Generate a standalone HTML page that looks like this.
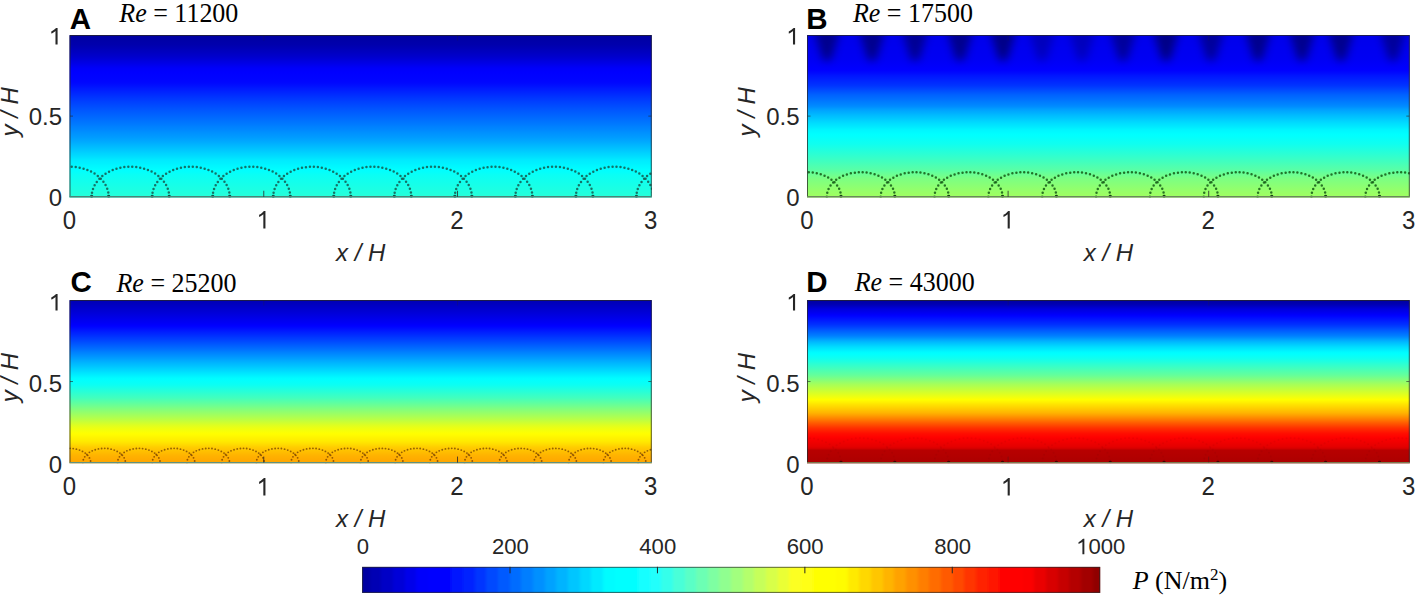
<!DOCTYPE html>
<html><head><meta charset="utf-8"><title>Pressure fields</title>
<style>
html,body{margin:0;padding:0;background:#fff;}
body{width:1417px;height:597px;overflow:hidden;position:relative;}
svg{position:absolute;left:0;top:0;display:block;}
.tk{font-family:"Liberation Sans",sans-serif;font-size:24px;fill:#262626;}
.al{font-family:"Liberation Sans",sans-serif;font-size:24px;font-style:italic;fill:#262626;}
.pl{font-family:"Liberation Sans",sans-serif;font-size:29.5px;font-weight:bold;fill:#000;}
.ti{font-family:"Liberation Serif",serif;font-size:26px;fill:#000;}
.it{font-style:italic;}
</style></head><body>
<svg width="1417" height="597" viewBox="0 0 1417 597">
<defs>
<filter id="blur" x="-50%" y="-50%" width="200%" height="200%"><feGaussianBlur stdDeviation="4"/></filter>
<linearGradient id="gA" x1="0" y1="1" x2="0" y2="0">
<stop offset="0.0000" stop-color="#29ffd6"/><stop offset="0.0100" stop-color="#25ffda"/><stop offset="0.0200" stop-color="#23ffdc"/><stop offset="0.0300" stop-color="#21ffde"/><stop offset="0.0400" stop-color="#1fffe0"/><stop offset="0.0500" stop-color="#1cffe3"/><stop offset="0.0600" stop-color="#1affe5"/><stop offset="0.0700" stop-color="#18ffe7"/><stop offset="0.0800" stop-color="#16ffe9"/><stop offset="0.0900" stop-color="#14ffeb"/><stop offset="0.1000" stop-color="#12ffed"/><stop offset="0.1100" stop-color="#10ffef"/><stop offset="0.1200" stop-color="#0efff1"/><stop offset="0.1300" stop-color="#0cfff3"/><stop offset="0.1400" stop-color="#0afff5"/><stop offset="0.1500" stop-color="#06fff9"/><stop offset="0.1600" stop-color="#03fffc"/><stop offset="0.1700" stop-color="#00ffff"/><stop offset="0.1800" stop-color="#00fbff"/><stop offset="0.1900" stop-color="#00f8ff"/><stop offset="0.2000" stop-color="#00f5ff"/><stop offset="0.2100" stop-color="#00f1ff"/><stop offset="0.2200" stop-color="#00eeff"/><stop offset="0.2300" stop-color="#00ebff"/><stop offset="0.2400" stop-color="#00e5ff"/><stop offset="0.2500" stop-color="#00dfff"/><stop offset="0.2600" stop-color="#00d9ff"/><stop offset="0.2700" stop-color="#00d4ff"/><stop offset="0.2800" stop-color="#00ceff"/><stop offset="0.2900" stop-color="#00c8ff"/><stop offset="0.3000" stop-color="#00c2ff"/><stop offset="0.3100" stop-color="#00bdff"/><stop offset="0.3200" stop-color="#00b7ff"/><stop offset="0.3300" stop-color="#00b1ff"/><stop offset="0.3400" stop-color="#00abff"/><stop offset="0.3500" stop-color="#00a6ff"/><stop offset="0.3600" stop-color="#00a1ff"/><stop offset="0.3700" stop-color="#009cff"/><stop offset="0.3800" stop-color="#0098ff"/><stop offset="0.3900" stop-color="#0094ff"/><stop offset="0.4000" stop-color="#0090ff"/><stop offset="0.4100" stop-color="#008bff"/><stop offset="0.4200" stop-color="#0087ff"/><stop offset="0.4300" stop-color="#0083ff"/><stop offset="0.4400" stop-color="#007fff"/><stop offset="0.4500" stop-color="#007aff"/><stop offset="0.4600" stop-color="#0076ff"/><stop offset="0.4700" stop-color="#0072ff"/><stop offset="0.4800" stop-color="#006eff"/><stop offset="0.4900" stop-color="#006aff"/><stop offset="0.5000" stop-color="#0066ff"/><stop offset="0.5100" stop-color="#0062ff"/><stop offset="0.5200" stop-color="#005eff"/><stop offset="0.5300" stop-color="#005aff"/><stop offset="0.5400" stop-color="#0056ff"/><stop offset="0.5500" stop-color="#0052ff"/><stop offset="0.5600" stop-color="#004dff"/><stop offset="0.5700" stop-color="#0049ff"/><stop offset="0.5800" stop-color="#0044ff"/><stop offset="0.5900" stop-color="#0040ff"/><stop offset="0.6000" stop-color="#003bff"/><stop offset="0.6100" stop-color="#0037ff"/><stop offset="0.6200" stop-color="#0032ff"/><stop offset="0.6300" stop-color="#002dff"/><stop offset="0.6400" stop-color="#0028ff"/><stop offset="0.6500" stop-color="#0023ff"/><stop offset="0.6600" stop-color="#001eff"/><stop offset="0.6700" stop-color="#001aff"/><stop offset="0.6800" stop-color="#0014ff"/><stop offset="0.6900" stop-color="#000fff"/><stop offset="0.7000" stop-color="#000aff"/><stop offset="0.7100" stop-color="#0007ff"/><stop offset="0.7200" stop-color="#0005ff"/><stop offset="0.7300" stop-color="#0004ff"/><stop offset="0.7400" stop-color="#0003ff"/><stop offset="0.7500" stop-color="#0002ff"/><stop offset="0.7600" stop-color="#0001ff"/><stop offset="0.7700" stop-color="#0000ff"/><stop offset="0.7800" stop-color="#0000fd"/><stop offset="0.7900" stop-color="#0000fc"/><stop offset="0.8000" stop-color="#0000f7"/><stop offset="0.8100" stop-color="#0000f1"/><stop offset="0.8200" stop-color="#0000ea"/><stop offset="0.8300" stop-color="#0000e4"/><stop offset="0.8400" stop-color="#0000de"/><stop offset="0.8500" stop-color="#0000d7"/><stop offset="0.8600" stop-color="#0000d1"/><stop offset="0.8700" stop-color="#0000cb"/><stop offset="0.8800" stop-color="#0000c7"/><stop offset="0.8900" stop-color="#0000c2"/><stop offset="0.9000" stop-color="#0000be"/><stop offset="0.9100" stop-color="#0000ba"/><stop offset="0.9200" stop-color="#0000b5"/><stop offset="0.9300" stop-color="#0000b1"/><stop offset="0.9400" stop-color="#0000ad"/><stop offset="0.9500" stop-color="#0000ab"/><stop offset="0.9600" stop-color="#0000a9"/><stop offset="0.9700" stop-color="#0000a7"/><stop offset="0.9800" stop-color="#0000a5"/><stop offset="0.9900" stop-color="#0000a2"/><stop offset="1.0000" stop-color="#00009e"/>
</linearGradient>
<clipPath id="cA"><rect x="69.50" y="35.00" width="582.30" height="162.50"/></clipPath>
<linearGradient id="gB" x1="0" y1="1" x2="0" y2="0">
<stop offset="0.0000" stop-color="#9eff61"/><stop offset="0.0100" stop-color="#9dff62"/><stop offset="0.0200" stop-color="#9bff64"/><stop offset="0.0300" stop-color="#99ff66"/><stop offset="0.0400" stop-color="#96ff69"/><stop offset="0.0500" stop-color="#93ff6c"/><stop offset="0.0600" stop-color="#8fff70"/><stop offset="0.0700" stop-color="#8cff73"/><stop offset="0.0800" stop-color="#88ff77"/><stop offset="0.0900" stop-color="#85ff7a"/><stop offset="0.1000" stop-color="#81ff7e"/><stop offset="0.1100" stop-color="#7eff81"/><stop offset="0.1200" stop-color="#7aff85"/><stop offset="0.1300" stop-color="#74ff8b"/><stop offset="0.1400" stop-color="#6dff92"/><stop offset="0.1500" stop-color="#67ff98"/><stop offset="0.1600" stop-color="#60ff9f"/><stop offset="0.1700" stop-color="#59ffa6"/><stop offset="0.1800" stop-color="#54ffab"/><stop offset="0.1900" stop-color="#50ffaf"/><stop offset="0.2000" stop-color="#4bffb4"/><stop offset="0.2100" stop-color="#46ffb9"/><stop offset="0.2200" stop-color="#41ffbe"/><stop offset="0.2300" stop-color="#3dffc2"/><stop offset="0.2400" stop-color="#38ffc7"/><stop offset="0.2500" stop-color="#33ffcc"/><stop offset="0.2600" stop-color="#2fffd0"/><stop offset="0.2700" stop-color="#2affd5"/><stop offset="0.2800" stop-color="#26ffd9"/><stop offset="0.2900" stop-color="#21ffde"/><stop offset="0.3000" stop-color="#1dffe2"/><stop offset="0.3100" stop-color="#18ffe7"/><stop offset="0.3200" stop-color="#14ffeb"/><stop offset="0.3300" stop-color="#0ffff0"/><stop offset="0.3400" stop-color="#0dfff2"/><stop offset="0.3500" stop-color="#0afff5"/><stop offset="0.3600" stop-color="#07fff8"/><stop offset="0.3700" stop-color="#04fffb"/><stop offset="0.3800" stop-color="#01fffe"/><stop offset="0.3900" stop-color="#00feff"/><stop offset="0.4000" stop-color="#00fbff"/><stop offset="0.4100" stop-color="#00f8ff"/><stop offset="0.4200" stop-color="#00f4ff"/><stop offset="0.4300" stop-color="#00edff"/><stop offset="0.4400" stop-color="#00e7ff"/><stop offset="0.4500" stop-color="#00e1ff"/><stop offset="0.4600" stop-color="#00dbff"/><stop offset="0.4700" stop-color="#00d4ff"/><stop offset="0.4800" stop-color="#00cdff"/><stop offset="0.4900" stop-color="#00c6ff"/><stop offset="0.5000" stop-color="#00bfff"/><stop offset="0.5100" stop-color="#00b8ff"/><stop offset="0.5200" stop-color="#00b0ff"/><stop offset="0.5300" stop-color="#00a9ff"/><stop offset="0.5400" stop-color="#00a1ff"/><stop offset="0.5500" stop-color="#0097ff"/><stop offset="0.5600" stop-color="#008dff"/><stop offset="0.5700" stop-color="#0086ff"/><stop offset="0.5800" stop-color="#0080ff"/><stop offset="0.5900" stop-color="#007aff"/><stop offset="0.6000" stop-color="#0074ff"/><stop offset="0.6100" stop-color="#006eff"/><stop offset="0.6200" stop-color="#0068ff"/><stop offset="0.6300" stop-color="#0063ff"/><stop offset="0.6400" stop-color="#005bff"/><stop offset="0.6500" stop-color="#0053ff"/><stop offset="0.6600" stop-color="#004bff"/><stop offset="0.6700" stop-color="#0043ff"/><stop offset="0.6800" stop-color="#003bff"/><stop offset="0.6900" stop-color="#0033ff"/><stop offset="0.7000" stop-color="#002eff"/><stop offset="0.7100" stop-color="#0029ff"/><stop offset="0.7200" stop-color="#0024ff"/><stop offset="0.7300" stop-color="#001fff"/><stop offset="0.7400" stop-color="#001aff"/><stop offset="0.7500" stop-color="#0015ff"/><stop offset="0.7600" stop-color="#000eff"/><stop offset="0.7700" stop-color="#0008ff"/><stop offset="0.7800" stop-color="#0002ff"/><stop offset="0.7900" stop-color="#0000ff"/><stop offset="0.8000" stop-color="#0000fd"/><stop offset="0.8100" stop-color="#0000fb"/><stop offset="0.8200" stop-color="#0000f9"/><stop offset="0.8300" stop-color="#0000f8"/><stop offset="0.8400" stop-color="#0000f6"/><stop offset="0.8500" stop-color="#0000f4"/><stop offset="0.8600" stop-color="#0000f3"/><stop offset="0.8700" stop-color="#0000f2"/><stop offset="0.8800" stop-color="#0000f2"/><stop offset="0.8900" stop-color="#0000f1"/><stop offset="0.9000" stop-color="#0000f1"/><stop offset="0.9100" stop-color="#0000f0"/><stop offset="0.9200" stop-color="#0000f0"/><stop offset="0.9300" stop-color="#0000ef"/><stop offset="0.9400" stop-color="#0000ee"/><stop offset="0.9500" stop-color="#0000ee"/><stop offset="0.9600" stop-color="#0000ed"/><stop offset="0.9700" stop-color="#0000ed"/><stop offset="0.9800" stop-color="#0000ec"/><stop offset="0.9900" stop-color="#0000eb"/><stop offset="1.0000" stop-color="#0000eb"/>
</linearGradient>
<clipPath id="cB"><rect x="807.00" y="35.00" width="602.80" height="162.50"/></clipPath>
<linearGradient id="gC" x1="0" y1="1" x2="0" y2="0">
<stop offset="0.0000" stop-color="#ffa300"/><stop offset="0.0100" stop-color="#ffa600"/><stop offset="0.0200" stop-color="#ffaa00"/><stop offset="0.0300" stop-color="#ffad00"/><stop offset="0.0400" stop-color="#ffb000"/><stop offset="0.0500" stop-color="#ffb400"/><stop offset="0.0600" stop-color="#ffb900"/><stop offset="0.0700" stop-color="#ffbe00"/><stop offset="0.0800" stop-color="#ffc300"/><stop offset="0.0900" stop-color="#ffc800"/><stop offset="0.1000" stop-color="#ffce00"/><stop offset="0.1100" stop-color="#ffd700"/><stop offset="0.1200" stop-color="#ffdf00"/><stop offset="0.1300" stop-color="#ffe700"/><stop offset="0.1400" stop-color="#ffed00"/><stop offset="0.1500" stop-color="#fff100"/><stop offset="0.1600" stop-color="#fff500"/><stop offset="0.1700" stop-color="#fffa00"/><stop offset="0.1800" stop-color="#fffe00"/><stop offset="0.1900" stop-color="#fbff04"/><stop offset="0.2000" stop-color="#f5ff0a"/><stop offset="0.2100" stop-color="#efff10"/><stop offset="0.2200" stop-color="#e9ff16"/><stop offset="0.2300" stop-color="#e1ff1e"/><stop offset="0.2400" stop-color="#d7ff28"/><stop offset="0.2500" stop-color="#cdff32"/><stop offset="0.2600" stop-color="#c2ff3d"/><stop offset="0.2700" stop-color="#b9ff46"/><stop offset="0.2800" stop-color="#b0ff4f"/><stop offset="0.2900" stop-color="#a7ff58"/><stop offset="0.3000" stop-color="#9eff61"/><stop offset="0.3100" stop-color="#95ff6a"/><stop offset="0.3200" stop-color="#8cff73"/><stop offset="0.3300" stop-color="#83ff7c"/><stop offset="0.3400" stop-color="#7aff85"/><stop offset="0.3500" stop-color="#70ff8f"/><stop offset="0.3600" stop-color="#67ff98"/><stop offset="0.3700" stop-color="#5effa1"/><stop offset="0.3800" stop-color="#55ffaa"/><stop offset="0.3900" stop-color="#4cffb3"/><stop offset="0.4000" stop-color="#42ffbd"/><stop offset="0.4100" stop-color="#3cffc3"/><stop offset="0.4200" stop-color="#35ffca"/><stop offset="0.4300" stop-color="#2effd1"/><stop offset="0.4400" stop-color="#27ffd8"/><stop offset="0.4500" stop-color="#21ffde"/><stop offset="0.4600" stop-color="#1affe5"/><stop offset="0.4700" stop-color="#13ffec"/><stop offset="0.4800" stop-color="#0cfff3"/><stop offset="0.4900" stop-color="#08fff7"/><stop offset="0.5000" stop-color="#05fffa"/><stop offset="0.5100" stop-color="#01fffe"/><stop offset="0.5200" stop-color="#00fcff"/><stop offset="0.5300" stop-color="#00f6ff"/><stop offset="0.5400" stop-color="#00eeff"/><stop offset="0.5500" stop-color="#00e7ff"/><stop offset="0.5600" stop-color="#00dfff"/><stop offset="0.5700" stop-color="#00d7ff"/><stop offset="0.5800" stop-color="#00d0ff"/><stop offset="0.5900" stop-color="#00c8ff"/><stop offset="0.6000" stop-color="#00c0ff"/><stop offset="0.6100" stop-color="#00b9ff"/><stop offset="0.6200" stop-color="#00b1ff"/><stop offset="0.6300" stop-color="#00a9ff"/><stop offset="0.6400" stop-color="#00a0ff"/><stop offset="0.6500" stop-color="#0098ff"/><stop offset="0.6600" stop-color="#0090ff"/><stop offset="0.6700" stop-color="#0088ff"/><stop offset="0.6800" stop-color="#0080ff"/><stop offset="0.6900" stop-color="#0077ff"/><stop offset="0.7000" stop-color="#006fff"/><stop offset="0.7100" stop-color="#0067ff"/><stop offset="0.7200" stop-color="#005fff"/><stop offset="0.7300" stop-color="#0057ff"/><stop offset="0.7400" stop-color="#004fff"/><stop offset="0.7500" stop-color="#0047ff"/><stop offset="0.7600" stop-color="#003fff"/><stop offset="0.7700" stop-color="#0038ff"/><stop offset="0.7800" stop-color="#0030ff"/><stop offset="0.7900" stop-color="#0028ff"/><stop offset="0.8000" stop-color="#0021ff"/><stop offset="0.8100" stop-color="#0019ff"/><stop offset="0.8200" stop-color="#0011ff"/><stop offset="0.8300" stop-color="#0009ff"/><stop offset="0.8400" stop-color="#0002ff"/><stop offset="0.8500" stop-color="#0000fb"/><stop offset="0.8600" stop-color="#0000f6"/><stop offset="0.8700" stop-color="#0000f1"/><stop offset="0.8800" stop-color="#0000ed"/><stop offset="0.8900" stop-color="#0000e8"/><stop offset="0.9000" stop-color="#0000e3"/><stop offset="0.9100" stop-color="#0000de"/><stop offset="0.9200" stop-color="#0000d9"/><stop offset="0.9300" stop-color="#0000d4"/><stop offset="0.9400" stop-color="#0000d0"/><stop offset="0.9500" stop-color="#0000cb"/><stop offset="0.9600" stop-color="#0000c6"/><stop offset="0.9700" stop-color="#0000c1"/><stop offset="0.9800" stop-color="#0000bc"/><stop offset="0.9900" stop-color="#0000b7"/><stop offset="1.0000" stop-color="#0000b2"/>
</linearGradient>
<clipPath id="cC"><rect x="69.50" y="300.00" width="582.30" height="163.30"/></clipPath>
<linearGradient id="gD" x1="0" y1="1" x2="0" y2="0">
<stop offset="0.0000" stop-color="#a80000"/><stop offset="0.0100" stop-color="#ad0000"/><stop offset="0.0200" stop-color="#af0000"/><stop offset="0.0300" stop-color="#b00000"/><stop offset="0.0400" stop-color="#b20000"/><stop offset="0.0500" stop-color="#b30000"/><stop offset="0.0600" stop-color="#b50000"/><stop offset="0.0700" stop-color="#b60000"/><stop offset="0.0800" stop-color="#b70000"/><stop offset="0.0900" stop-color="#d40000"/><stop offset="0.1000" stop-color="#e30000"/><stop offset="0.1100" stop-color="#e80000"/><stop offset="0.1200" stop-color="#ec0000"/><stop offset="0.1300" stop-color="#f10000"/><stop offset="0.1400" stop-color="#f50000"/><stop offset="0.1500" stop-color="#fa0000"/><stop offset="0.1600" stop-color="#ff0100"/><stop offset="0.1700" stop-color="#ff0700"/><stop offset="0.1800" stop-color="#ff0c00"/><stop offset="0.1900" stop-color="#ff1500"/><stop offset="0.2000" stop-color="#ff1f00"/><stop offset="0.2100" stop-color="#ff2a00"/><stop offset="0.2200" stop-color="#ff3600"/><stop offset="0.2300" stop-color="#ff4400"/><stop offset="0.2400" stop-color="#ff5200"/><stop offset="0.2500" stop-color="#ff6000"/><stop offset="0.2600" stop-color="#ff6f00"/><stop offset="0.2700" stop-color="#ff7d00"/><stop offset="0.2800" stop-color="#ff8b00"/><stop offset="0.2900" stop-color="#ff9a00"/><stop offset="0.3000" stop-color="#ffa800"/><stop offset="0.3100" stop-color="#ffb500"/><stop offset="0.3200" stop-color="#ffbe00"/><stop offset="0.3300" stop-color="#ffc800"/><stop offset="0.3400" stop-color="#ffd100"/><stop offset="0.3500" stop-color="#ffda00"/><stop offset="0.3600" stop-color="#ffe300"/><stop offset="0.3700" stop-color="#ffed00"/><stop offset="0.3800" stop-color="#fff600"/><stop offset="0.3900" stop-color="#ffff00"/><stop offset="0.4000" stop-color="#f5ff0a"/><stop offset="0.4100" stop-color="#ecff13"/><stop offset="0.4200" stop-color="#e2ff1d"/><stop offset="0.4300" stop-color="#d9ff26"/><stop offset="0.4400" stop-color="#cfff30"/><stop offset="0.4500" stop-color="#c5ff3a"/><stop offset="0.4600" stop-color="#bcff43"/><stop offset="0.4700" stop-color="#b2ff4d"/><stop offset="0.4800" stop-color="#a9ff56"/><stop offset="0.4900" stop-color="#9eff61"/><stop offset="0.5000" stop-color="#92ff6d"/><stop offset="0.5100" stop-color="#86ff79"/><stop offset="0.5200" stop-color="#7bff84"/><stop offset="0.5300" stop-color="#6fff90"/><stop offset="0.5400" stop-color="#64ff9b"/><stop offset="0.5500" stop-color="#5cffa3"/><stop offset="0.5600" stop-color="#54ffab"/><stop offset="0.5700" stop-color="#4cffb3"/><stop offset="0.5800" stop-color="#43ffbc"/><stop offset="0.5900" stop-color="#3bffc4"/><stop offset="0.6000" stop-color="#33ffcc"/><stop offset="0.6100" stop-color="#2bffd4"/><stop offset="0.6200" stop-color="#22ffdd"/><stop offset="0.6300" stop-color="#1affe5"/><stop offset="0.6400" stop-color="#12ffed"/><stop offset="0.6500" stop-color="#0cfff3"/><stop offset="0.6600" stop-color="#06fff9"/><stop offset="0.6700" stop-color="#01fffe"/><stop offset="0.6800" stop-color="#00fbff"/><stop offset="0.6900" stop-color="#00f2ff"/><stop offset="0.7000" stop-color="#00e8ff"/><stop offset="0.7100" stop-color="#00dfff"/><stop offset="0.7200" stop-color="#00d4ff"/><stop offset="0.7300" stop-color="#00c8ff"/><stop offset="0.7400" stop-color="#00bcff"/><stop offset="0.7500" stop-color="#00afff"/><stop offset="0.7600" stop-color="#009fff"/><stop offset="0.7700" stop-color="#008fff"/><stop offset="0.7800" stop-color="#0080ff"/><stop offset="0.7900" stop-color="#0075ff"/><stop offset="0.8000" stop-color="#006aff"/><stop offset="0.8100" stop-color="#005fff"/><stop offset="0.8200" stop-color="#0053ff"/><stop offset="0.8300" stop-color="#0047ff"/><stop offset="0.8400" stop-color="#003bff"/><stop offset="0.8500" stop-color="#0030ff"/><stop offset="0.8600" stop-color="#0028ff"/><stop offset="0.8700" stop-color="#001fff"/><stop offset="0.8800" stop-color="#0016ff"/><stop offset="0.8900" stop-color="#000eff"/><stop offset="0.9000" stop-color="#0005ff"/><stop offset="0.9100" stop-color="#0000fb"/><stop offset="0.9200" stop-color="#0000f2"/><stop offset="0.9300" stop-color="#0000e9"/><stop offset="0.9400" stop-color="#0000e1"/><stop offset="0.9500" stop-color="#0000d5"/><stop offset="0.9600" stop-color="#0000c6"/><stop offset="0.9700" stop-color="#0000b7"/><stop offset="0.9800" stop-color="#0000ad"/><stop offset="0.9900" stop-color="#0000a6"/><stop offset="1.0000" stop-color="#00009e"/>
</linearGradient>
<clipPath id="cD"><rect x="807.00" y="300.00" width="602.80" height="163.30"/></clipPath>
<linearGradient id="gcb" x1="0" y1="0" x2="1" y2="0">
<stop offset="0.00000" stop-color="#0000a2"/><stop offset="0.01562" stop-color="#0000a2"/><stop offset="0.01562" stop-color="#0000b4"/><stop offset="0.03125" stop-color="#0000b4"/><stop offset="0.03125" stop-color="#0000c6"/><stop offset="0.04688" stop-color="#0000c6"/><stop offset="0.04688" stop-color="#0000d8"/><stop offset="0.06250" stop-color="#0000d8"/><stop offset="0.06250" stop-color="#0000ea"/><stop offset="0.07812" stop-color="#0000ea"/><stop offset="0.07812" stop-color="#0000fc"/><stop offset="0.09375" stop-color="#0000fc"/><stop offset="0.09375" stop-color="#0000ff"/><stop offset="0.10938" stop-color="#0000ff"/><stop offset="0.10938" stop-color="#0000ff"/><stop offset="0.12500" stop-color="#0000ff"/><stop offset="0.12500" stop-color="#0012ff"/><stop offset="0.14062" stop-color="#0012ff"/><stop offset="0.14062" stop-color="#0024ff"/><stop offset="0.15625" stop-color="#0024ff"/><stop offset="0.15625" stop-color="#0036ff"/><stop offset="0.17188" stop-color="#0036ff"/><stop offset="0.17188" stop-color="#0048ff"/><stop offset="0.18750" stop-color="#0048ff"/><stop offset="0.18750" stop-color="#005aff"/><stop offset="0.20312" stop-color="#005aff"/><stop offset="0.20312" stop-color="#006cff"/><stop offset="0.21875" stop-color="#006cff"/><stop offset="0.21875" stop-color="#007eff"/><stop offset="0.23438" stop-color="#007eff"/><stop offset="0.23438" stop-color="#0090ff"/><stop offset="0.25000" stop-color="#0090ff"/><stop offset="0.25000" stop-color="#00a2ff"/><stop offset="0.26562" stop-color="#00a2ff"/><stop offset="0.26562" stop-color="#00b4ff"/><stop offset="0.28125" stop-color="#00b4ff"/><stop offset="0.28125" stop-color="#00c6ff"/><stop offset="0.29688" stop-color="#00c6ff"/><stop offset="0.29688" stop-color="#00d8ff"/><stop offset="0.31250" stop-color="#00d8ff"/><stop offset="0.31250" stop-color="#00eaff"/><stop offset="0.32812" stop-color="#00eaff"/><stop offset="0.32812" stop-color="#00fcff"/><stop offset="0.34375" stop-color="#00fcff"/><stop offset="0.34375" stop-color="#00ffff"/><stop offset="0.35938" stop-color="#00ffff"/><stop offset="0.35938" stop-color="#00ffff"/><stop offset="0.37500" stop-color="#00ffff"/><stop offset="0.37500" stop-color="#12ffff"/><stop offset="0.39062" stop-color="#12ffff"/><stop offset="0.39062" stop-color="#24fffc"/><stop offset="0.40625" stop-color="#24fffc"/><stop offset="0.40625" stop-color="#36ffea"/><stop offset="0.42188" stop-color="#36ffea"/><stop offset="0.42188" stop-color="#48ffd8"/><stop offset="0.43750" stop-color="#48ffd8"/><stop offset="0.43750" stop-color="#5affc6"/><stop offset="0.45312" stop-color="#5affc6"/><stop offset="0.45312" stop-color="#6cffb4"/><stop offset="0.46875" stop-color="#6cffb4"/><stop offset="0.46875" stop-color="#7effa2"/><stop offset="0.48438" stop-color="#7effa2"/><stop offset="0.48438" stop-color="#90ff90"/><stop offset="0.50000" stop-color="#90ff90"/><stop offset="0.50000" stop-color="#a2ff7e"/><stop offset="0.51562" stop-color="#a2ff7e"/><stop offset="0.51562" stop-color="#b4ff6c"/><stop offset="0.53125" stop-color="#b4ff6c"/><stop offset="0.53125" stop-color="#c6ff5a"/><stop offset="0.54688" stop-color="#c6ff5a"/><stop offset="0.54688" stop-color="#d8ff48"/><stop offset="0.56250" stop-color="#d8ff48"/><stop offset="0.56250" stop-color="#eaff36"/><stop offset="0.57812" stop-color="#eaff36"/><stop offset="0.57812" stop-color="#fcff24"/><stop offset="0.59375" stop-color="#fcff24"/><stop offset="0.59375" stop-color="#ffff12"/><stop offset="0.60938" stop-color="#ffff12"/><stop offset="0.60938" stop-color="#ffff00"/><stop offset="0.62500" stop-color="#ffff00"/><stop offset="0.62500" stop-color="#ffff00"/><stop offset="0.64062" stop-color="#ffff00"/><stop offset="0.64062" stop-color="#fffc00"/><stop offset="0.65625" stop-color="#fffc00"/><stop offset="0.65625" stop-color="#ffea00"/><stop offset="0.67188" stop-color="#ffea00"/><stop offset="0.67188" stop-color="#ffd800"/><stop offset="0.68750" stop-color="#ffd800"/><stop offset="0.68750" stop-color="#ffc600"/><stop offset="0.70312" stop-color="#ffc600"/><stop offset="0.70312" stop-color="#ffb400"/><stop offset="0.71875" stop-color="#ffb400"/><stop offset="0.71875" stop-color="#ffa200"/><stop offset="0.73438" stop-color="#ffa200"/><stop offset="0.73438" stop-color="#ff9000"/><stop offset="0.75000" stop-color="#ff9000"/><stop offset="0.75000" stop-color="#ff7e00"/><stop offset="0.76562" stop-color="#ff7e00"/><stop offset="0.76562" stop-color="#ff6c00"/><stop offset="0.78125" stop-color="#ff6c00"/><stop offset="0.78125" stop-color="#ff5a00"/><stop offset="0.79688" stop-color="#ff5a00"/><stop offset="0.79688" stop-color="#ff4800"/><stop offset="0.81250" stop-color="#ff4800"/><stop offset="0.81250" stop-color="#ff3600"/><stop offset="0.82812" stop-color="#ff3600"/><stop offset="0.82812" stop-color="#ff2400"/><stop offset="0.84375" stop-color="#ff2400"/><stop offset="0.84375" stop-color="#ff1200"/><stop offset="0.85938" stop-color="#ff1200"/><stop offset="0.85938" stop-color="#ff0000"/><stop offset="0.87500" stop-color="#ff0000"/><stop offset="0.87500" stop-color="#ff0000"/><stop offset="0.89062" stop-color="#ff0000"/><stop offset="0.89062" stop-color="#fc0000"/><stop offset="0.90625" stop-color="#fc0000"/><stop offset="0.90625" stop-color="#ea0000"/><stop offset="0.92188" stop-color="#ea0000"/><stop offset="0.92188" stop-color="#d80000"/><stop offset="0.93750" stop-color="#d80000"/><stop offset="0.93750" stop-color="#c60000"/><stop offset="0.95312" stop-color="#c60000"/><stop offset="0.95312" stop-color="#b40000"/><stop offset="0.96875" stop-color="#b40000"/><stop offset="0.96875" stop-color="#a20000"/><stop offset="0.98438" stop-color="#a20000"/><stop offset="0.98438" stop-color="#900000"/><stop offset="1.00000" stop-color="#900000"/>
</linearGradient>
</defs>
<rect x="69.50" y="35.00" width="582.30" height="162.50" fill="url(#gA)"/>
<g clip-path="url(#cA)" fill="none" stroke="#155a50" stroke-opacity="0.85" stroke-width="2.50" stroke-linecap="round" stroke-dasharray="0 4.00">
<path d="M31.14 196.75 A38.76 30.00 0 0 1 108.66 196.75"/><path d="M91.67 196.75 A38.76 30.00 0 0 1 169.19 196.75"/><path d="M152.20 196.75 A38.76 30.00 0 0 1 229.72 196.75"/><path d="M212.73 196.75 A38.76 30.00 0 0 1 290.25 196.75"/><path d="M273.26 196.75 A38.76 30.00 0 0 1 350.78 196.75"/><path d="M333.79 196.75 A38.76 30.00 0 0 1 411.31 196.75"/><path d="M394.32 196.75 A38.76 30.00 0 0 1 471.84 196.75"/><path d="M454.85 196.75 A38.76 30.00 0 0 1 532.37 196.75"/><path d="M515.38 196.75 A38.76 30.00 0 0 1 592.90 196.75"/><path d="M575.91 196.75 A38.76 30.00 0 0 1 653.43 196.75"/><path d="M636.44 196.75 A38.76 30.00 0 0 1 713.96 196.75"/>
</g>
<g clip-path="url(#cA)" fill="#0a3a30" opacity="0.80"><ellipse cx="108.66" cy="196.15" rx="1.6" ry="1.3"/><ellipse cx="169.19" cy="196.15" rx="1.6" ry="1.3"/><ellipse cx="91.67" cy="196.15" rx="1.6" ry="1.3"/><ellipse cx="229.72" cy="196.15" rx="1.6" ry="1.3"/><ellipse cx="152.20" cy="196.15" rx="1.6" ry="1.3"/><ellipse cx="290.25" cy="196.15" rx="1.6" ry="1.3"/><ellipse cx="212.73" cy="196.15" rx="1.6" ry="1.3"/><ellipse cx="350.78" cy="196.15" rx="1.6" ry="1.3"/><ellipse cx="273.26" cy="196.15" rx="1.6" ry="1.3"/><ellipse cx="411.31" cy="196.15" rx="1.6" ry="1.3"/><ellipse cx="333.79" cy="196.15" rx="1.6" ry="1.3"/><ellipse cx="471.84" cy="196.15" rx="1.6" ry="1.3"/><ellipse cx="394.32" cy="196.15" rx="1.6" ry="1.3"/><ellipse cx="532.37" cy="196.15" rx="1.6" ry="1.3"/><ellipse cx="454.85" cy="196.15" rx="1.6" ry="1.3"/><ellipse cx="592.90" cy="196.15" rx="1.6" ry="1.3"/><ellipse cx="515.38" cy="196.15" rx="1.6" ry="1.3"/><ellipse cx="575.91" cy="196.15" rx="1.6" ry="1.3"/><ellipse cx="636.44" cy="196.15" rx="1.6" ry="1.3"/></g>
<path d="M70.00 196.75 V35.50 H651.30 V196.75" fill="none" stroke="#262626" stroke-width="1" stroke-opacity="0.75"/>
<line x1="69.50" y1="196.75" x2="651.80" y2="196.75" stroke="#4a8478" stroke-width="1.3"/>
<line x1="263.77" y1="196.75" x2="263.77" y2="190.75" stroke="#262626" stroke-width="1" stroke-opacity="0.80"/><line x1="263.77" y1="35.50" x2="263.77" y2="40.50" stroke="#262626" stroke-width="1" stroke-opacity="0.25"/><line x1="457.53" y1="196.75" x2="457.53" y2="190.75" stroke="#262626" stroke-width="1" stroke-opacity="0.80"/><line x1="457.53" y1="35.50" x2="457.53" y2="40.50" stroke="#262626" stroke-width="1" stroke-opacity="0.25"/><line x1="70.00" y1="116.12" x2="73.00" y2="116.12" stroke="#262626" stroke-width="1" stroke-opacity="0.6"/><line x1="651.30" y1="116.12" x2="648.30" y2="116.12" stroke="#262626" stroke-width="1" stroke-opacity="0.6"/>
<g transform="translate(69.40,228.55) scale(1,1.060)" fill="#262626"><text x="-6.67" y="0" style="font-family:'Liberation Sans',sans-serif;font-size:24.00px">0</text></g><g transform="translate(263.17,228.55) scale(1,1.060)" fill="#262626"><path transform="translate(-6.67,0) scale(0.01172,-0.01172)" d="M763 0H583V1147Q518 1085 412 1023Q307 961 223 930V1104Q374 1175 487 1276Q600 1377 647 1409H763Z"/></g><g transform="translate(456.93,228.55) scale(1,1.060)" fill="#262626"><text x="-6.67" y="0" style="font-family:'Liberation Sans',sans-serif;font-size:24.00px">2</text></g><g transform="translate(650.70,228.55) scale(1,1.060)" fill="#262626"><text x="-6.67" y="0" style="font-family:'Liberation Sans',sans-serif;font-size:24.00px">3</text></g><g transform="translate(62.00,205.65) scale(1,1.000)" fill="#262626"><text x="-13.35" y="0" style="font-family:'Liberation Sans',sans-serif;font-size:24.00px">0</text></g><g transform="translate(62.00,125.03) scale(1,1.000)" fill="#262626"><text x="-33.36" y="0" style="font-family:'Liberation Sans',sans-serif;font-size:24.00px">0</text><text x="-20.02" y="0" style="font-family:'Liberation Sans',sans-serif;font-size:24.00px">.</text><text x="-13.35" y="0" style="font-family:'Liberation Sans',sans-serif;font-size:24.00px">5</text></g><g transform="translate(62.00,44.40) scale(1,1.000)" fill="#262626"><path transform="translate(-13.35,0) scale(0.01172,-0.01172)" d="M763 0H583V1147Q518 1085 412 1023Q307 961 223 930V1104Q374 1175 487 1276Q600 1377 647 1409H763Z"/></g>
<text class="al" x="360.65" y="260.55" text-anchor="middle">x / H</text>
<text class="al" transform="translate(17.80,111.80) rotate(-90)" x="0" y="0" text-anchor="middle">y / H</text>
<text class="pl" x="69.70" y="28.90">A</text>
<text class="ti" transform="translate(119.30,21.90) scale(1,1.05)" x="0" y="0"><tspan class="it">Re</tspan> = 11200</text>
<rect x="807.00" y="35.00" width="602.80" height="162.50" fill="url(#gB)"/>
<g clip-path="url(#cB)">
<path d="M814.0 30 L840.0 30 L832.0 58 Q827.0 64 822.0 58 Z" fill="#000080" opacity="0.88" filter="url(#blur)"/><path d="M859.0 30 L885.0 30 L877.0 58 Q872.0 64 867.0 58 Z" fill="#000080" opacity="0.88" filter="url(#blur)"/><path d="M902.0 30 L928.0 30 L920.0 58 Q915.0 64 910.0 58 Z" fill="#000080" opacity="0.81" filter="url(#blur)"/><path d="M947.0 30 L973.0 30 L965.0 58 Q960.0 64 955.0 58 Z" fill="#000080" opacity="0.88" filter="url(#blur)"/><path d="M990.0 30 L1016.0 30 L1008.0 58 Q1003.0 64 998.0 58 Z" fill="#000080" opacity="0.94" filter="url(#blur)"/><path d="M1029.0 30 L1055.0 30 L1047.0 58 Q1042.0 64 1037.0 58 Z" fill="#000080" opacity="0.44" filter="url(#blur)"/><path d="M1069.0 30 L1095.0 30 L1087.0 58 Q1082.0 64 1077.0 58 Z" fill="#000080" opacity="0.44" filter="url(#blur)"/><path d="M1110.0 30 L1136.0 30 L1128.0 58 Q1123.0 64 1118.0 58 Z" fill="#000080" opacity="0.75" filter="url(#blur)"/><path d="M1153.0 30 L1179.0 30 L1171.0 58 Q1166.0 64 1161.0 58 Z" fill="#000080" opacity="0.94" filter="url(#blur)"/><path d="M1198.0 30 L1224.0 30 L1216.0 58 Q1211.0 64 1206.0 58 Z" fill="#000080" opacity="0.75" filter="url(#blur)"/><path d="M1245.0 30 L1271.0 30 L1263.0 58 Q1258.0 64 1253.0 58 Z" fill="#000080" opacity="0.88" filter="url(#blur)"/><path d="M1289.0 30 L1315.0 30 L1307.0 58 Q1302.0 64 1297.0 58 Z" fill="#000080" opacity="0.88" filter="url(#blur)"/><path d="M1328.0 30 L1354.0 30 L1346.0 58 Q1341.0 64 1336.0 58 Z" fill="#000080" opacity="0.88" filter="url(#blur)"/><path d="M1380.0 30 L1406.0 30 L1398.0 58 Q1393.0 64 1388.0 58 Z" fill="#000080" opacity="0.75" filter="url(#blur)"/>
</g>
<g clip-path="url(#cB)" fill="none" stroke="#145a16" stroke-opacity="0.85" stroke-width="2.50" stroke-linecap="round" stroke-dasharray="0 4.00">
<path d="M772.97 196.75 A34.00 24.50 0 0 1 840.97 196.75"/><path d="M826.82 196.75 A34.00 24.50 0 0 1 894.82 196.75"/><path d="M880.67 196.75 A34.00 24.50 0 0 1 948.67 196.75"/><path d="M934.52 196.75 A34.00 24.50 0 0 1 1002.52 196.75"/><path d="M988.37 196.75 A34.00 24.50 0 0 1 1056.37 196.75"/><path d="M1042.22 196.75 A34.00 24.50 0 0 1 1110.22 196.75"/><path d="M1096.07 196.75 A34.00 24.50 0 0 1 1164.07 196.75"/><path d="M1149.92 196.75 A34.00 24.50 0 0 1 1217.92 196.75"/><path d="M1203.77 196.75 A34.00 24.50 0 0 1 1271.77 196.75"/><path d="M1257.62 196.75 A34.00 24.50 0 0 1 1325.62 196.75"/><path d="M1311.47 196.75 A34.00 24.50 0 0 1 1379.47 196.75"/><path d="M1365.32 196.75 A34.00 24.50 0 0 1 1433.32 196.75"/>
</g>
<g clip-path="url(#cB)" fill="#0a300a" opacity="0.85"><ellipse cx="840.97" cy="196.15" rx="1.6" ry="1.3"/><ellipse cx="894.82" cy="196.15" rx="1.6" ry="1.3"/><ellipse cx="948.67" cy="196.15" rx="1.6" ry="1.3"/><ellipse cx="1002.52" cy="196.15" rx="1.6" ry="1.3"/><ellipse cx="1056.37" cy="196.15" rx="1.6" ry="1.3"/><ellipse cx="1110.22" cy="196.15" rx="1.6" ry="1.3"/><ellipse cx="1164.07" cy="196.15" rx="1.6" ry="1.3"/><ellipse cx="1217.92" cy="196.15" rx="1.6" ry="1.3"/><ellipse cx="1271.77" cy="196.15" rx="1.6" ry="1.3"/><ellipse cx="1325.62" cy="196.15" rx="1.6" ry="1.3"/><ellipse cx="1379.47" cy="196.15" rx="1.6" ry="1.3"/></g>
<path d="M807.50 196.75 V35.50 H1409.30 V196.75" fill="none" stroke="#262626" stroke-width="1" stroke-opacity="0.75"/>
<line x1="807.00" y1="196.75" x2="1409.80" y2="196.75" stroke="#6a8a5a" stroke-width="1.3"/>
<line x1="1008.10" y1="196.75" x2="1008.10" y2="190.75" stroke="#262626" stroke-width="1" stroke-opacity="0.80"/><line x1="1008.10" y1="35.50" x2="1008.10" y2="40.50" stroke="#262626" stroke-width="1" stroke-opacity="0.25"/><line x1="1208.70" y1="196.75" x2="1208.70" y2="190.75" stroke="#262626" stroke-width="1" stroke-opacity="0.80"/><line x1="1208.70" y1="35.50" x2="1208.70" y2="40.50" stroke="#262626" stroke-width="1" stroke-opacity="0.25"/><line x1="807.50" y1="116.12" x2="810.50" y2="116.12" stroke="#262626" stroke-width="1" stroke-opacity="0.6"/><line x1="1409.30" y1="116.12" x2="1406.30" y2="116.12" stroke="#262626" stroke-width="1" stroke-opacity="0.6"/>
<g transform="translate(806.90,228.55) scale(1,1.060)" fill="#262626"><text x="-6.67" y="0" style="font-family:'Liberation Sans',sans-serif;font-size:24.00px">0</text></g><g transform="translate(1007.50,228.55) scale(1,1.060)" fill="#262626"><path transform="translate(-6.67,0) scale(0.01172,-0.01172)" d="M763 0H583V1147Q518 1085 412 1023Q307 961 223 930V1104Q374 1175 487 1276Q600 1377 647 1409H763Z"/></g><g transform="translate(1208.10,228.55) scale(1,1.060)" fill="#262626"><text x="-6.67" y="0" style="font-family:'Liberation Sans',sans-serif;font-size:24.00px">2</text></g><g transform="translate(1408.70,228.55) scale(1,1.060)" fill="#262626"><text x="-6.67" y="0" style="font-family:'Liberation Sans',sans-serif;font-size:24.00px">3</text></g><g transform="translate(799.50,205.65) scale(1,1.000)" fill="#262626"><text x="-13.35" y="0" style="font-family:'Liberation Sans',sans-serif;font-size:24.00px">0</text></g><g transform="translate(799.50,125.03) scale(1,1.000)" fill="#262626"><text x="-33.36" y="0" style="font-family:'Liberation Sans',sans-serif;font-size:24.00px">0</text><text x="-20.02" y="0" style="font-family:'Liberation Sans',sans-serif;font-size:24.00px">.</text><text x="-13.35" y="0" style="font-family:'Liberation Sans',sans-serif;font-size:24.00px">5</text></g><g transform="translate(799.50,44.40) scale(1,1.000)" fill="#262626"><path transform="translate(-13.35,0) scale(0.01172,-0.01172)" d="M763 0H583V1147Q518 1085 412 1023Q307 961 223 930V1104Q374 1175 487 1276Q600 1377 647 1409H763Z"/></g>
<text class="al" x="1108.40" y="260.55" text-anchor="middle">x / H</text>
<text class="al" transform="translate(755.30,111.80) rotate(-90)" x="0" y="0" text-anchor="middle">y / H</text>
<text class="pl" x="806.20" y="28.90">B</text>
<text class="ti" transform="translate(852.90,21.90) scale(1,1.05)" x="0" y="0"><tspan class="it">Re</tspan> = 17500</text>
<rect x="69.50" y="300.00" width="582.30" height="163.30" fill="url(#gC)"/>
<g clip-path="url(#cC)" fill="none" stroke="#552500" stroke-opacity="0.62" stroke-width="1.90" stroke-linecap="round" stroke-dasharray="0 3.20">
<path d="M48.15 462.85 A21.30 14.50 0 0 1 90.75 462.85"/><path d="M82.85 462.85 A21.30 14.50 0 0 1 125.45 462.85"/><path d="M117.55 462.85 A21.30 14.50 0 0 1 160.15 462.85"/><path d="M152.25 462.85 A21.30 14.50 0 0 1 194.85 462.85"/><path d="M186.95 462.85 A21.30 14.50 0 0 1 229.55 462.85"/><path d="M221.65 462.85 A21.30 14.50 0 0 1 264.25 462.85"/><path d="M256.35 462.85 A21.30 14.50 0 0 1 298.95 462.85"/><path d="M291.05 462.85 A21.30 14.50 0 0 1 333.65 462.85"/><path d="M325.75 462.85 A21.30 14.50 0 0 1 368.35 462.85"/><path d="M360.45 462.85 A21.30 14.50 0 0 1 403.05 462.85"/><path d="M395.15 462.85 A21.30 14.50 0 0 1 437.75 462.85"/><path d="M429.85 462.85 A21.30 14.50 0 0 1 472.45 462.85"/><path d="M464.55 462.85 A21.30 14.50 0 0 1 507.15 462.85"/><path d="M499.25 462.85 A21.30 14.50 0 0 1 541.85 462.85"/><path d="M533.95 462.85 A21.30 14.50 0 0 1 576.55 462.85"/><path d="M568.65 462.85 A21.30 14.50 0 0 1 611.25 462.85"/><path d="M603.35 462.85 A21.30 14.50 0 0 1 645.95 462.85"/><path d="M638.05 462.85 A21.30 14.50 0 0 1 680.65 462.85"/>
</g>
<path d="M70.00 462.55 V300.50 H651.30 V462.55" fill="none" stroke="#262626" stroke-width="1" stroke-opacity="0.75"/>
<line x1="69.50" y1="462.55" x2="651.80" y2="462.55" stroke="#5f9282" stroke-width="1.3"/>
<line x1="263.77" y1="462.55" x2="263.77" y2="456.55" stroke="#262626" stroke-width="1" stroke-opacity="0.80"/><line x1="263.77" y1="300.50" x2="263.77" y2="305.50" stroke="#262626" stroke-width="1" stroke-opacity="0.25"/><line x1="457.53" y1="462.55" x2="457.53" y2="456.55" stroke="#262626" stroke-width="1" stroke-opacity="0.80"/><line x1="457.53" y1="300.50" x2="457.53" y2="305.50" stroke="#262626" stroke-width="1" stroke-opacity="0.25"/><line x1="70.00" y1="381.52" x2="73.00" y2="381.52" stroke="#262626" stroke-width="1" stroke-opacity="0.6"/><line x1="651.30" y1="381.52" x2="648.30" y2="381.52" stroke="#262626" stroke-width="1" stroke-opacity="0.6"/>
<g transform="translate(69.40,495.45) scale(1,1.060)" fill="#262626"><text x="-6.67" y="0" style="font-family:'Liberation Sans',sans-serif;font-size:24.00px">0</text></g><g transform="translate(263.17,495.45) scale(1,1.060)" fill="#262626"><path transform="translate(-6.67,0) scale(0.01172,-0.01172)" d="M763 0H583V1147Q518 1085 412 1023Q307 961 223 930V1104Q374 1175 487 1276Q600 1377 647 1409H763Z"/></g><g transform="translate(456.93,495.45) scale(1,1.060)" fill="#262626"><text x="-6.67" y="0" style="font-family:'Liberation Sans',sans-serif;font-size:24.00px">2</text></g><g transform="translate(650.70,495.45) scale(1,1.060)" fill="#262626"><text x="-6.67" y="0" style="font-family:'Liberation Sans',sans-serif;font-size:24.00px">3</text></g><g transform="translate(62.00,472.55) scale(1,1.000)" fill="#262626"><text x="-13.35" y="0" style="font-family:'Liberation Sans',sans-serif;font-size:24.00px">0</text></g><g transform="translate(62.00,391.52) scale(1,1.000)" fill="#262626"><text x="-33.36" y="0" style="font-family:'Liberation Sans',sans-serif;font-size:24.00px">0</text><text x="-20.02" y="0" style="font-family:'Liberation Sans',sans-serif;font-size:24.00px">.</text><text x="-13.35" y="0" style="font-family:'Liberation Sans',sans-serif;font-size:24.00px">5</text></g><g transform="translate(62.00,310.50) scale(1,1.000)" fill="#262626"><path transform="translate(-13.35,0) scale(0.01172,-0.01172)" d="M763 0H583V1147Q518 1085 412 1023Q307 961 223 930V1104Q374 1175 487 1276Q600 1377 647 1409H763Z"/></g>
<text class="al" x="360.65" y="527.12" text-anchor="middle">x / H</text>
<text class="al" transform="translate(17.80,377.68) rotate(-90)" x="0" y="0" text-anchor="middle">y / H</text>
<text class="pl" x="70.60" y="292.20">C</text>
<text class="ti" transform="translate(116.50,291.50) scale(1,1.05)" x="0" y="0"><tspan class="it">Re</tspan> = 25200</text>
<rect x="807.00" y="300.00" width="602.80" height="163.30" fill="url(#gD)"/>
<g clip-path="url(#cD)" fill="none" stroke="#300000" stroke-opacity="0.06" stroke-width="2.00" stroke-linecap="round" stroke-dasharray="0 4.10">
<path d="M772.97 462.55 A34.00 24.50 0 0 1 840.97 462.55"/><path d="M826.82 462.55 A34.00 24.50 0 0 1 894.82 462.55"/><path d="M880.67 462.55 A34.00 24.50 0 0 1 948.67 462.55"/><path d="M934.52 462.55 A34.00 24.50 0 0 1 1002.52 462.55"/><path d="M988.37 462.55 A34.00 24.50 0 0 1 1056.37 462.55"/><path d="M1042.22 462.55 A34.00 24.50 0 0 1 1110.22 462.55"/><path d="M1096.07 462.55 A34.00 24.50 0 0 1 1164.07 462.55"/><path d="M1149.92 462.55 A34.00 24.50 0 0 1 1217.92 462.55"/><path d="M1203.77 462.55 A34.00 24.50 0 0 1 1271.77 462.55"/><path d="M1257.62 462.55 A34.00 24.50 0 0 1 1325.62 462.55"/><path d="M1311.47 462.55 A34.00 24.50 0 0 1 1379.47 462.55"/><path d="M1365.32 462.55 A34.00 24.50 0 0 1 1433.32 462.55"/>
</g>
<g clip-path="url(#cD)" fill="#200000" opacity="0.70"><ellipse cx="840.97" cy="461.95" rx="1.6" ry="1.3"/><ellipse cx="894.82" cy="461.95" rx="1.6" ry="1.3"/><ellipse cx="948.67" cy="461.95" rx="1.6" ry="1.3"/><ellipse cx="1002.52" cy="461.95" rx="1.6" ry="1.3"/><ellipse cx="1056.37" cy="461.95" rx="1.6" ry="1.3"/><ellipse cx="1110.22" cy="461.95" rx="1.6" ry="1.3"/><ellipse cx="1164.07" cy="461.95" rx="1.6" ry="1.3"/><ellipse cx="1217.92" cy="461.95" rx="1.6" ry="1.3"/><ellipse cx="1271.77" cy="461.95" rx="1.6" ry="1.3"/><ellipse cx="1325.62" cy="461.95" rx="1.6" ry="1.3"/><ellipse cx="1379.47" cy="461.95" rx="1.6" ry="1.3"/></g>
<path d="M807.50 462.55 V300.50 H1409.30 V462.55" fill="none" stroke="#262626" stroke-width="1" stroke-opacity="0.75"/>
<line x1="807.00" y1="462.55" x2="1409.80" y2="462.55" stroke="#7a7a50" stroke-width="1.3"/>
<line x1="1008.10" y1="462.55" x2="1008.10" y2="456.55" stroke="#262626" stroke-width="1" stroke-opacity="0.30"/><line x1="1008.10" y1="300.50" x2="1008.10" y2="305.50" stroke="#262626" stroke-width="1" stroke-opacity="0.25"/><line x1="1208.70" y1="462.55" x2="1208.70" y2="456.55" stroke="#262626" stroke-width="1" stroke-opacity="0.30"/><line x1="1208.70" y1="300.50" x2="1208.70" y2="305.50" stroke="#262626" stroke-width="1" stroke-opacity="0.25"/><line x1="807.50" y1="381.52" x2="810.50" y2="381.52" stroke="#262626" stroke-width="1" stroke-opacity="0.6"/><line x1="1409.30" y1="381.52" x2="1406.30" y2="381.52" stroke="#262626" stroke-width="1" stroke-opacity="0.6"/>
<g transform="translate(806.90,495.45) scale(1,1.060)" fill="#262626"><text x="-6.67" y="0" style="font-family:'Liberation Sans',sans-serif;font-size:24.00px">0</text></g><g transform="translate(1007.50,495.45) scale(1,1.060)" fill="#262626"><path transform="translate(-6.67,0) scale(0.01172,-0.01172)" d="M763 0H583V1147Q518 1085 412 1023Q307 961 223 930V1104Q374 1175 487 1276Q600 1377 647 1409H763Z"/></g><g transform="translate(1208.10,495.45) scale(1,1.060)" fill="#262626"><text x="-6.67" y="0" style="font-family:'Liberation Sans',sans-serif;font-size:24.00px">2</text></g><g transform="translate(1408.70,495.45) scale(1,1.060)" fill="#262626"><text x="-6.67" y="0" style="font-family:'Liberation Sans',sans-serif;font-size:24.00px">3</text></g><g transform="translate(799.50,472.55) scale(1,1.000)" fill="#262626"><text x="-13.35" y="0" style="font-family:'Liberation Sans',sans-serif;font-size:24.00px">0</text></g><g transform="translate(799.50,391.52) scale(1,1.000)" fill="#262626"><text x="-33.36" y="0" style="font-family:'Liberation Sans',sans-serif;font-size:24.00px">0</text><text x="-20.02" y="0" style="font-family:'Liberation Sans',sans-serif;font-size:24.00px">.</text><text x="-13.35" y="0" style="font-family:'Liberation Sans',sans-serif;font-size:24.00px">5</text></g><g transform="translate(799.50,310.50) scale(1,1.000)" fill="#262626"><path transform="translate(-13.35,0) scale(0.01172,-0.01172)" d="M763 0H583V1147Q518 1085 412 1023Q307 961 223 930V1104Q374 1175 487 1276Q600 1377 647 1409H763Z"/></g>
<text class="al" x="1108.40" y="527.12" text-anchor="middle">x / H</text>
<text class="al" transform="translate(755.30,377.68) rotate(-90)" x="0" y="0" text-anchor="middle">y / H</text>
<text class="pl" x="806.30" y="291.80">D</text>
<text class="ti" transform="translate(854.70,291.30) scale(1,1.05)" x="0" y="0"><tspan class="it">Re</tspan> = 43000</text>
<clipPath id="ccb"><rect x="362.10" y="566.80" width="738.10" height="26.10"/></clipPath>
<filter id="hblur" x="-5%%" y="-50%%" width="110%%" height="200%%"><feGaussianBlur stdDeviation="1.6 0"/></filter>
<g clip-path="url(#ccb)"><rect x="358.10" y="566.80" width="746.10" height="26.10" fill="url(#gcb)" filter="url(#hblur)"/></g>
<rect x="362.60" y="567.30" width="737.10" height="25.10" fill="none" stroke="#262626" stroke-width="1" stroke-opacity="0.7"/>
<g transform="translate(362.90,554.30) scale(1,1.020)" fill="#262626"><text x="-6.15" y="0" style="font-family:'Liberation Sans',sans-serif;font-size:22.10px">0</text></g><line x1="510.02" y1="566.80" x2="510.02" y2="573.30" stroke="#262626" stroke-width="1"/><g transform="translate(510.32,554.30) scale(1,1.020)" fill="#262626"><text x="-18.44" y="0" style="font-family:'Liberation Sans',sans-serif;font-size:22.10px">2</text><text x="-6.15" y="0" style="font-family:'Liberation Sans',sans-serif;font-size:22.10px">0</text><text x="6.15" y="0" style="font-family:'Liberation Sans',sans-serif;font-size:22.10px">0</text></g><line x1="657.44" y1="566.80" x2="657.44" y2="573.30" stroke="#262626" stroke-width="1"/><g transform="translate(657.74,554.30) scale(1,1.020)" fill="#262626"><text x="-18.44" y="0" style="font-family:'Liberation Sans',sans-serif;font-size:22.10px">4</text><text x="-6.15" y="0" style="font-family:'Liberation Sans',sans-serif;font-size:22.10px">0</text><text x="6.15" y="0" style="font-family:'Liberation Sans',sans-serif;font-size:22.10px">0</text></g><line x1="804.86" y1="566.80" x2="804.86" y2="573.30" stroke="#262626" stroke-width="1"/><g transform="translate(805.16,554.30) scale(1,1.020)" fill="#262626"><text x="-18.44" y="0" style="font-family:'Liberation Sans',sans-serif;font-size:22.10px">6</text><text x="-6.15" y="0" style="font-family:'Liberation Sans',sans-serif;font-size:22.10px">0</text><text x="6.15" y="0" style="font-family:'Liberation Sans',sans-serif;font-size:22.10px">0</text></g><line x1="952.28" y1="566.80" x2="952.28" y2="573.30" stroke="#262626" stroke-width="1"/><g transform="translate(952.58,554.30) scale(1,1.020)" fill="#262626"><text x="-18.44" y="0" style="font-family:'Liberation Sans',sans-serif;font-size:22.10px">8</text><text x="-6.15" y="0" style="font-family:'Liberation Sans',sans-serif;font-size:22.10px">0</text><text x="6.15" y="0" style="font-family:'Liberation Sans',sans-serif;font-size:22.10px">0</text></g><g transform="translate(1100.70,554.30) scale(1,1.020)" fill="#262626"><path transform="translate(-24.58,0) scale(0.01079,-0.01079)" d="M763 0H583V1147Q518 1085 412 1023Q307 961 223 930V1104Q374 1175 487 1276Q600 1377 647 1409H763Z"/><text x="-12.29" y="0" style="font-family:'Liberation Sans',sans-serif;font-size:22.10px">0</text><text x="0.00" y="0" style="font-family:'Liberation Sans',sans-serif;font-size:22.10px">0</text><text x="12.29" y="0" style="font-family:'Liberation Sans',sans-serif;font-size:22.10px">0</text></g>
<text class="ti" x="1132.7" y="588.9"><tspan class="it">P</tspan> (N/m<tspan dy="-9" font-size="17">2</tspan><tspan dy="9">)</tspan></text>
</svg>
</body></html>
